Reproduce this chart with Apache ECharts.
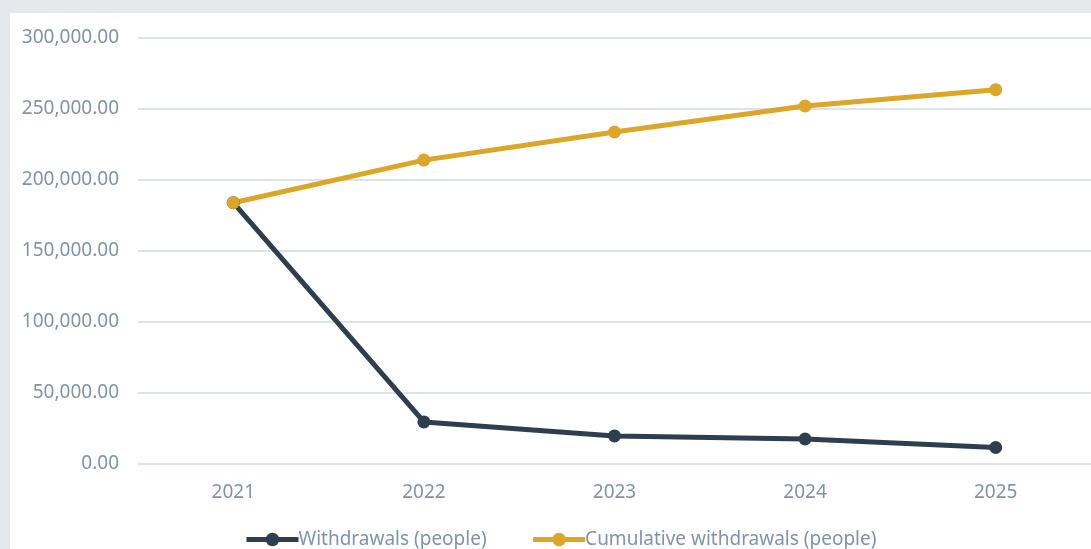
<!DOCTYPE html>
<html>
<head>
<meta charset="utf-8">
<script src="https://cdn.jsdelivr.net/npm/echarts@6/dist/echarts.min.js"></script>
<style>
html,body{margin:0;padding:0;background:#e4e8ed;width:1091px;height:549px;overflow:hidden;}
#chart{position:absolute;left:10px;top:13px;width:1081px;height:536px;background:#ffffff;}
</style>
</head>
<body>
<div id="chart"></div>
<script>
var categories = ['2021', '2022', '2023', '2024', '2025'];
var withdrawals = [184000, 29600, 19800, 17600, 11600];
var cumulative = [184000, 214000, 233800, 252100, 263600];
var seriesNames = ['Withdrawals (people)', 'Cumulative withdrawals (people)'];

var textColor = '#7f94ac';
var fontFam = '"Noto Sans", "Open Sans", sans-serif';
var chart = echarts.init(document.getElementById('chart'));
chart.setOption({
  animation: false,
  backgroundColor: '#ffffff',
  color: ['#2d3e4f', '#dca629'],
  grid: { left: 128, right: -1, top: 25, bottom: 85, containLabel: false },
  legend: {
    bottom: -5,
    left: 229,
    itemWidth: 52,
    itemHeight: 17,
    itemGap: 44,
    lineStyle: { width: 5 },
    textStyle: { color: textColor, fontSize: 19, fontFamily: fontFam, padding: [0, 0, 0, -5] },
    data: seriesNames
  },
  xAxis: {
    type: 'category',
    data: categories,
    boundaryGap: true,
    axisLine: { show: false },
    axisTick: { show: false },
    axisLabel: { color: textColor, fontSize: 19, fontFamily: fontFam, margin: 19 }
  },
  yAxis: {
    type: 'value',
    min: 0,
    max: 300000,
    interval: 50000,
    axisLine: { show: false },
    axisTick: { show: false },
    splitLine: { lineStyle: { color: '#dde3ea', width: 2 } },
    axisLabel: {
      color: textColor, fontSize: 19, fontFamily: fontFam, margin: 19,
      formatter: function (v) {
        return v.toLocaleString('en-US', { minimumFractionDigits: 2, maximumFractionDigits: 2 });
      }
    }
  },
  series: [
    {
      name: seriesNames[0], type: 'line', data: withdrawals,
      symbol: 'circle', symbolSize: 13,
      lineStyle: { width: 5 }
    },
    {
      name: seriesNames[1], type: 'line', data: cumulative,
      symbol: 'circle', symbolSize: 13,
      lineStyle: { width: 5 }
    }
  ]
});
</script>
</body>
</html>
